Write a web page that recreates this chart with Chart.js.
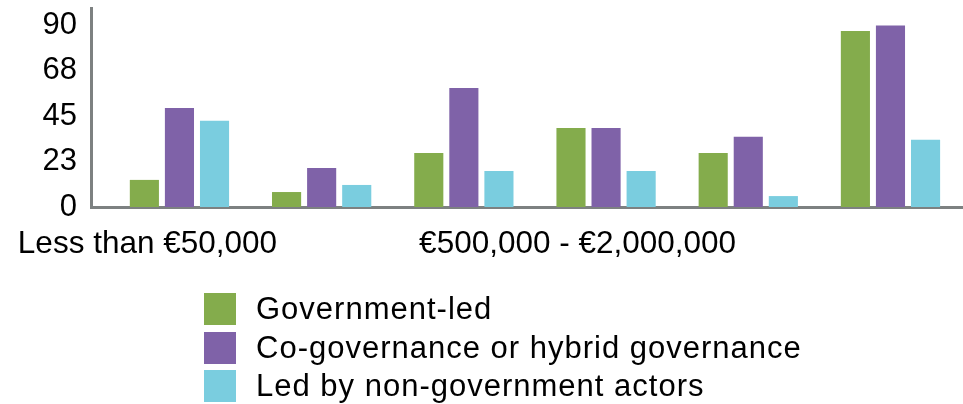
<!DOCTYPE html>
<html>
<head>
<meta charset="utf-8">
<script src="https://cdn.jsdelivr.net/npm/chart.js@4"></script>
<style>
  body { margin: 0; background: #fff; }
  #wrap { position: relative; width: 963px; height: 404px; }
  #legend { position: absolute; left: 204px; top: 290px; font-family: "Liberation Sans", Arial, sans-serif; font-size: 31px; letter-spacing: 1px; color: #000; }
  .item { display: flex; align-items: center; height: 38.5px; }
  .box { width: 32px; height: 32px; margin-right: 20px; }
</style>
</head>
<body>
<div id="wrap">
  <canvas id="myChart" width="963" height="404"></canvas>
  <div id="legend"></div>
</div>
<script>
const categories = ["Less than €50,000", "€50,000 - €500,000", "€500,000 - €2,000,000", "€2,000,000 - €10,000,000", "More than €10,000,000", "Not known"];
const governmentLed = [13.4, 7.4, 26.7, 39.1, 26.7, 87.0];
const coGovernance = [49.0, 19.3, 58.9, 39.1, 34.7, 89.8];
const nonGovernment = [42.6, 10.9, 17.8, 17.8, 5.4, 33.2];

const yTickValues = [0, 22.5, 45, 67.5, 90];
const yTickLabels = ["0", "23", "45", "68", "90"];
// only two of the band names are printed under the axis
const xTickValues = [-0.225, 2.8];
const xTickLabels = ["Less than €50,000", "€500,000 - €2,000,000"];

const seriesNames = ["Government-led", "Co-governance or hybrid governance", "Led by non-government actors"];
const seriesColors = ["#84ac4c", "#7f62a8", "#7acddf"];

const toPoints = (arr) => arr.map((v, i) => ({ x: i, y: v }));

const fontFamily = "'Liberation Sans', Arial, sans-serif";

const data = {
  labels: categories,
  datasets: [governmentLed, coGovernance, nonGovernment].map((arr, i) => ({
    label: seriesNames[i],
    data: toPoints(arr),
    backgroundColor: seriesColors[i],
    borderWidth: 0,
    categoryPercentage: 0.74,
    barPercentage: 0.83,
  })),
};

const config = {
  type: "bar",
  data: data,
  options: {
    responsive: false,
    animation: false,
    layout: { padding: { top: 8, right: 0, left: 0, bottom: 0 } },
    plugins: {
      legend: { display: false },
      tooltip: { enabled: false },
    },
    scales: {
      x: {
        type: "linear",
        offset: false,
        min: -0.622,
        max: 5.51,
        grid: { display: false, drawTicks: false },
        border: { color: "#7d8181", width: 3 },
        ticks: {
          font: { family: fontFamily, size: 31.5 },
          color: "#000",
          padding: 18,
          maxRotation: 0,
          autoSkip: false,
          callback: (v, i) => xTickLabels[i],
        },
        afterBuildTicks: (scale) => {
          scale.ticks = xTickValues.map((v) => ({ value: v }));
        },
        afterFit: (scale) => {
          scale.height = 197;
          scale.paddingLeft = 0;
          scale.paddingRight = 0;
        },
      },
      y: {
        min: 0,
        max: 98.4,
        grid: { display: false, drawTicks: false },
        border: { color: "#7d8181", width: 3 },
        ticks: {
          font: { family: fontFamily, size: 31 },
          color: "#000",
          padding: 14,
          callback: (v, i) => yTickLabels[i],
        },
        afterBuildTicks: (scale) => {
          scale.ticks = yTickValues.map((v) => ({ value: v }));
        },
        afterFit: (scale) => {
          scale.width = 91;
          scale.paddingTop = 0;
          scale.paddingBottom = 0;
        },
      },
    },
  },
};

const chart = new Chart(document.getElementById("myChart").getContext("2d"), config);

// legend as a plain vertical list, like the original
const legendEl = document.getElementById("legend");
chart.data.datasets.forEach((ds) => {
  const row = document.createElement("div");
  row.className = "item";
  const box = document.createElement("span");
  box.className = "box";
  box.style.background = ds.backgroundColor;
  const txt = document.createElement("span");
  txt.textContent = ds.label;
  row.appendChild(box);
  row.appendChild(txt);
  legendEl.appendChild(row);
});
</script>
</body>
</html>
